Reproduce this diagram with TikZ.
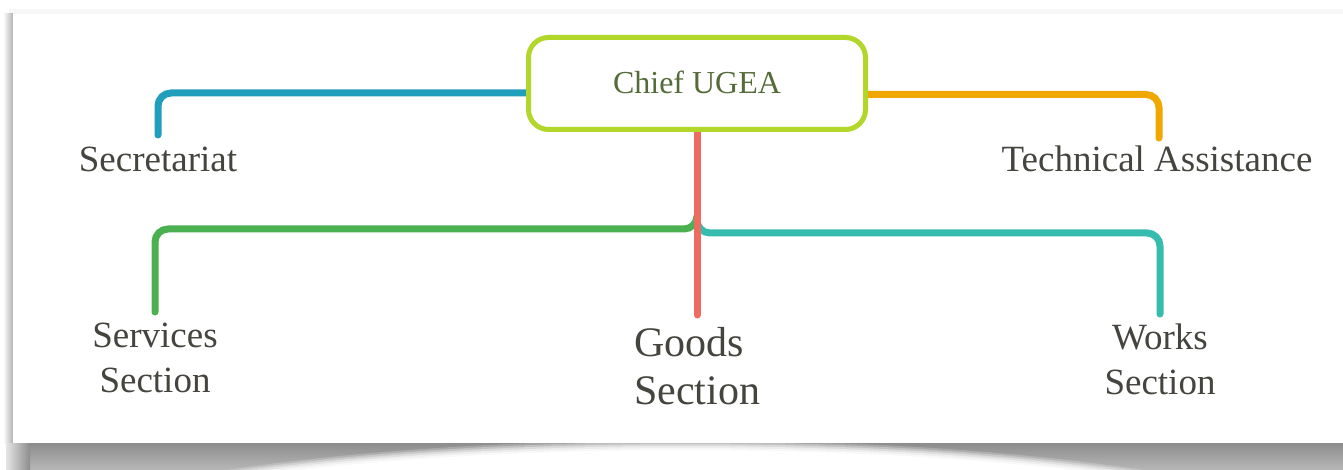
\documentclass[tikz,border=0pt]{standalone}
\usepackage{fontspec}
\setmainfont{Liberation Serif}
\definecolor{cBlue}{HTML}{229EBD}
\definecolor{cOrange}{HTML}{F0A800}
\definecolor{cRed}{HTML}{EE6B60}
\definecolor{cGreen}{HTML}{4BB04F}
\definecolor{cTeal}{HTML}{35BCAE}
\definecolor{cLime}{HTML}{B2D62A}
\definecolor{cText}{HTML}{45443E}
\definecolor{cChief}{HTML}{566B3A}
\pgfdeclarelayer{panel}
\pgfdeclarelayer{links}
\pgfsetlayers{panel,links,main}
\begin{document}
\begin{tikzpicture}[x=1pt,y=-1pt,
  branch/.style={line width=7pt,line cap=round,rounded corners=13pt},
  label/.style={text=cText,inner sep=0pt,font=\fontsize{37}{45}\selectfont,align=center},
  chiefbox/.style={draw=cLime,line width=5pt,fill=white,rounded corners=20pt,
    minimum width=337pt,minimum height=92pt,text=cChief,
    font=\fontsize{32}{38}\selectfont}]
\useasboundingbox (0,0) rectangle (1343,470);

% white sheet with its drop shadow
\begin{pgfonlayer}{panel}
\fill[white] (0,0) rectangle (1343,470);
\fill[black!3] (9,9) rectangle (1343,14);
\shade[left color=white,right color=black!30] (3,14) rectangle (13,443);
\shade[top color=black!45,bottom color=black!28] (6,443) rectangle (1343,470);
\shade[left color=black!10,right color=black!45] (6,443) rectangle (30,470);
\foreach \r/\o in {10/0.2,8/0.3,6/0.4,4/0.5,2/0.6,0/1}{
  \fill[white,opacity=\o] (685,571) ellipse [x radius=700+2*\r, y radius=121+\r];
}
\fill[white] (13,14) rectangle (1343,443);
\end{pgfonlayer}

% nodes
\node[chiefbox] (chief) at (697,83.5) {};
\node[text=cChief,inner sep=0pt,font=\fontsize{32}{38}\selectfont,anchor=base] at (697,94) {Chief UGEA};
\node[label,anchor=base] (sec) at (158,172) {Secretariat};
\node[label,anchor=base] (tech) at (1157,172) {Technical Assistance};
\node[label] (serv) at (155,357.5) {Services\\Section};
\node[label] (works) at (1160,359) {Works\\Section};
\node[label,align=left,anchor=west,font=\fontsize{42}{48}\selectfont] (goods) at (634,365.7) {Goods\\Section};

% free ends of the connectors
\coordinate (secEnd) at (158,135);
\coordinate (techEnd) at (1159,138);
\coordinate (servEnd) at (155,312);
\coordinate (worksEnd) at (1160,314);
\coordinate (goodsEnd) at (697,315);
\coordinate (split) at (697,219);

% connectors, kept behind the box
\begin{pgfonlayer}{links}
\draw[branch,cBlue] ([xshift=20pt,yshift=-9.5pt]chief.west) -| (secEnd);
\draw[branch,cOrange] ([xshift=-20pt,yshift=-11pt]chief.east) -| (techEnd);
\draw[branch,cGreen] (split) |- (155,229) -- (servEnd);
\draw[branch,cTeal] ([yshift=-4pt]split) |- (1160,233) -- (worksEnd);
\draw[branch,cRed] (chief.south) -- (goodsEnd);
\end{pgfonlayer}
\end{tikzpicture}
\end{document}
